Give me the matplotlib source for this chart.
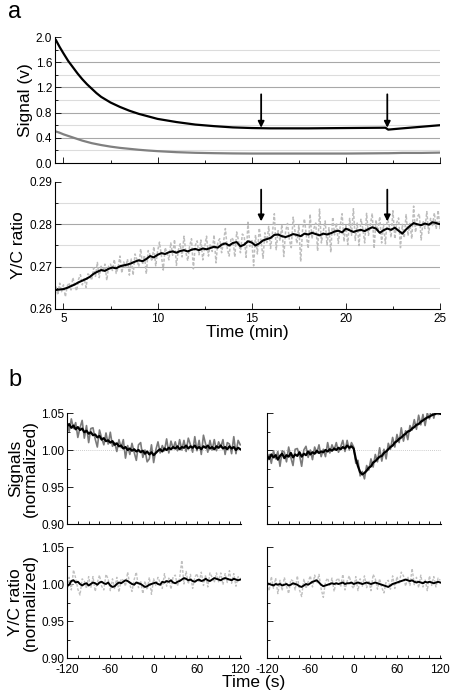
import numpy as np
import matplotlib
matplotlib.use("Agg")
import matplotlib.pyplot as plt
from matplotlib.ticker import MultipleLocator

plt.rcParams['font.family'] = ['Liberation Sans', 'DejaVu Sans']

#========================================================================
# panel a, top: raw signals (V)
t_sig = [4.6, 4.8, 5.0, 5.25, 5.5, 5.75, 6.0, 6.25, 6.5, 6.75, 7.0, 7.5, 8.0, 8.5, 9.0, 9.5,
         10.0, 11.0, 12.0, 13.0, 14.0, 15.0, 16.0, 18.0, 20.0, 22.1, 22.25, 23.0, 24.0, 25.0]
sig_black = [1.95, 1.84, 1.74, 1.62, 1.52, 1.42, 1.33, 1.25, 1.18, 1.11, 1.05, 0.96, 0.89, 0.83, 0.78, 0.74,
             0.70, 0.65, 0.61, 0.585, 0.565, 0.555, 0.55, 0.55, 0.555, 0.56, 0.53, 0.55, 0.575, 0.60]
sig_gray = [0.50, 0.48, 0.455, 0.43, 0.405, 0.38, 0.355, 0.335, 0.315, 0.30, 0.285, 0.26, 0.24, 0.225, 0.21, 0.198,
            0.188, 0.172, 0.162, 0.156, 0.152, 0.15, 0.15, 0.15, 0.15, 0.155, 0.155, 0.16, 0.16, 0.165]
arrow_t = [15.5, 22.2]

# panel a, bottom: Y/C ratio, black = smoothed (units 1e-4 above 0.26), every 0.2 min from 4.6
ratio_black_e4 = [45, 46, 47, 50, 54, 58, 63, 67, 71, 76, 83, 88, 92, 90, 95, 98, 96, 101, 103, 105,
                  108, 112, 115, 113, 118, 125, 122, 128, 132, 130, 134, 136, 133, 137, 139, 136, 140, 142, 139, 143,
                  141, 144, 147, 145, 152, 155, 150, 156, 158, 148, 152, 160, 157, 150, 155, 162, 165, 168, 175, 176,
                  172, 170, 173, 177, 175, 172, 178, 176, 180, 177, 174, 178, 176, 179, 183, 185, 181, 190, 186, 182,
                  185, 187, 184, 189, 193, 190, 180, 186, 190, 187, 192, 185, 178, 188, 196, 203, 200, 198, 202, 199,
                  205, 203, 200]
# raw ratio (gray), deviation from smoothed trace, two samples per smoothed point (1e-4)
ratio_gray_dev_e4 = [8, -12, 15, -5, 10, -18, 4, 12, -9, 20, -3, -15, 7, 18, -10, 5, -20, 12, 3, -8,
                     14, -6, 22, -14, 9, -4, 16, -22, 6, 11, -7, 19, -12, 2, 24, -16, 8, -5, 13, -25,
                     10, -28, 18, 5, -15, 27, -8, 14, -35, 20, 3, -12, 25, -20, 9, 30, -6, -40, 15, 2,
                     -18, 22, -9, 28, -30, 6, 17, -14, 33, -5, -22, 12, 26, -45, 8, 19, -11, 24, -27, 4,
                     31, -16, 10, -8, 28, -38, 14, 21, -19, 6, 35, -12, -25, 18, 9, -33, 24, 3, -15, 29,
                     20, -30, 45, -12, 8, -55, 25, -20, 36, 5, -42, 18, -8, 30, -25, 12, 50, -35, 9, -15,
                     27, -48, 14, 32, -10, -28, 40, 6, -20, 22, -60, 15, 35, -5, -33, 48, -14, 10, 26, -40,
                     62, -18, 5, 30, -25, 16, -45, 38, -8, 20, -30, 12, 44, -22, 7, -38, 28, -12, 55, -20,
                     18, -35, 25, 3, -28, 42, -15, 10, 33, -50, 20, -6, 38, -24, 14, -32, 26, 8, -18, 45,
                     -26, 12, 30, -40, 22, -10, 35, -15, 6, -30, 40, -22, 18, 25, -35, 10, -12, 28, -20, 15,
                     -8, 22, -14, 30, -10, 5]

# panel b: normalized traces, per-mille deviation from 1.00, every 3 s from -120 to 120
sigL_black = [32, 35, 30, 33, 28, 31, 27, 29, 24, 26, 22, 24, 20, 21, 17, 19, 14, 16, 12, 13,
              10, 12, 7, 9, 5, 6, 2, 4, 0, 2, -1, 1, -2, 0, -3, -1, -5, -2, -6, -3,
              -7, -4, -1, 1, -2, 2, 0, 3, 1, 4, 2, 5, 1, 4, 3, 6, 2, 5, 3, 6,
              2, 4, 1, 5, 3, 6, 2, 4, 1, 5, 3, 6, 2, 4, 1, 5, 2, 4, 0, 3, 1]
sigL_gray_dev = [6, -10, 12, -4, 9, -14, 3, 11, -8, 7, -12, 5, 10, -6, -13, 8, 2, -9, 11, -5,
                 14, -7, 3, -11, 9, -3, 12, -15, 6, -8, 10, -4, -12, 7, 13, -9, 5, -14, -6, 10,
                 -10, 4, 12, -5, 8, -3, 15, -7, 11, -2, 9, -6, 13, -4, 10, -8, 14, 2, -6, 12,
                 -3, 9, -7, 15, 5, -9, 11, -4, 13, -6, 8, -2, 12, -10, 9, 3, -7, 14, -5, 10, 6]
sigR_black = [-8, -12, -6, -10, -7, -13, -8, -5, -11, -7, -9, -4, -10, -6, -8, -3, -9, -5, -7, -2,
              -6, -3, -5, -1, -4, -2, -3, 0, -2, 1, -1, 2, 0, 3, 1, 4, 2, 6, 3, 5,
              2, -12, -22, -30, -33, -31, -28, -24, -22, -17, -15, -12, -9, -8, -4, -2, 1, 4, 6, 10,
              12, 15, 17, 20, 22, 25, 26, 29, 31, 34, 35, 38, 40, 42, 44, 45, 47, 48, 49, 50, 49]
sigR_gray_dev = [-8, 6, -12, 9, -5, 11, -14, 4, 8, -9, 13, -6, -11, 7, 10, -4, -13, 5, 12, -8,
                 6, -10, 9, -3, 11, -7, 4, -9, 12, -5, 8, -2, 10, -6, 3, 9, -4, 7, -3, 5,
                 2, -6, 8, -5, 4, -8, 7, -3, 10, -6, 9, -4, 12, -7, 5, -10, 8, -3, 11, -6,
                 9, -5, 13, -8, 4, -11, 7, -2, 10, -6, 12, -4, 8, -9, 6, -3, 11, -5, 7, -2, 0]
ratL_black = [-3, -1, 4, 5, 2, 3, 0, -2, 0, 1, -2, 0, 2, 1, -1, 2, 3, 1, 0, 2,
              -2, -4, -3, 0, 2, 1, 3, 5, 4, 2, 0, -1, 2, 1, 0, -2, -4, -3, -1, 0,
              1, 2, 0, -1, 3, 2, 4, 3, 5, 2, 1, 3, 4, 6, 8, 7, 5, 6, 4, 3,
              5, 6, 4, 5, 7, 5, 4, 6, 8, 7, 6, 5, 7, 8, 7, 6, 5, 7, 6, 5, 6]
ratL_gray_dev = [-8, 10, -12, 14, 6, -10, -15, 9, 4, -7, 12, -5, 8, -11, 3, 10, -6, -9, 13, 5,
                 -7, 11, -4, 9, -13, 6, 2, -8, 12, -3, -10, 7, 14, -6, 4, -11, 8, -5, 10, -14,
                 6, -4, 9, 3, -9, 12, -7, 5, -12, 8, 11, -6, 4, 26, -8, 10, -5, 7, -10, 6,
                 9, -4, 12, -7, 5, -9, 11, 3, -6, 8, -3, 10, -8, 6, -5, 12, -4, 7, -9, 5, 2]
ratR_black = [1, 0, -1, -2, 0, -1, 0, -2, -1, 0, -2, -1, 1, 0, -1, -3, -4, -2, 0, -1,
              1, 3, 4, 5, 2, -1, -3, -2, -1, 0, 1, 0, 1, 0, 1, 2, 0, 1, 1, 2,
              0, 1, 2, 1, 0, 1, 2, 1, 0, 1, 2, 1, 0, -1, -2, -3, -4, -2, 0, 1,
              2, 3, 4, 5, 6, 5, 4, 5, 3, 2, 3, 2, 1, 3, 2, 3, 2, 1, 2, 3, 2]
ratR_gray_dev = [6, -9, 11, -4, 8, -12, 5, -7, 10, -3, -11, 7, 3, -8, 12, -5, -13, 9, -6, 4,
                 10, -7, 8, -4, 11, -6, -15, 5, 9, -3, 7, -10, 4, 8, -5, 11, -8, 3, 10, -4,
                 -6, 9, -11, 6, -3, 10, -7, 4, -9, 12, 5, -8, 7, -4, -10, 6, 9, -5, 11, -7,
                 8, -3, 12, 6, -9, 5, -6, 16, -4, 7, -8, 10, -5, 3, -11, 8, -4, 9, -6, 5, 3]
#========================================================================

t_ratio = 4.6 + 0.2*np.arange(len(ratio_black_e4))
ratio_black = 0.26 + np.array(ratio_black_e4)*1e-4
t_ratio_raw = 4.6 + 0.1*np.arange(len(ratio_gray_dev_e4))
ratio_gray = np.repeat(ratio_black, 2)[:len(ratio_gray_dev_e4)] + np.array(ratio_gray_dev_e4)*1e-4

t_b = -120 + 3*np.arange(len(sigL_black))

def norm(v):
    return 1 + np.array(v)/1000.0

LIGHT = '#dcdcdc'
DARK = '#a8a8a8'
TICKFS = 8.5
LABFS = 12.5

fig = plt.figure(figsize=(4.5, 6.95), dpi=100)

def style(ax):
    for s in ('top', 'right'):
        ax.spines[s].set_visible(False)
    ax.spines['left'].set_linewidth(0.8)
    ax.spines['bottom'].set_linewidth(0.8)
    ax.tick_params(which='both', direction='in', labelsize=TICKFS, width=0.6, pad=2)
    ax.tick_params(which='major', length=4)
    ax.tick_params(which='minor', length=2)

# ---- panel a top
ax1 = fig.add_axes([55/450, 1-163/695, 385/450, 126/695])
style(ax1)
for yv in np.arange(0.2, 1.9, 0.2):
    c = DARK if round(yv/0.2) % 2 == 0 else LIGHT
    ax1.axhline(yv, color=c, lw=0.8, zorder=0)
ax1.plot(t_sig, sig_gray, color='#808080', lw=1.6)
ax1.plot(t_sig, sig_black, color='k', lw=1.6)
for ta in arrow_t:
    ax1.annotate('', xy=(ta, 0.56), xytext=(ta, 1.09),
                 arrowprops=dict(arrowstyle='-|>', color='k', lw=1.3, mutation_scale=9, shrinkA=0, shrinkB=0))
ax1.set_xlim(4.55, 25)
ax1.set_ylim(0, 2.0)
ax1.yaxis.set_major_locator(MultipleLocator(0.4))
ax1.yaxis.set_minor_locator(MultipleLocator(0.2))
ax1.xaxis.set_major_locator(MultipleLocator(5))
ax1.xaxis.set_minor_locator(MultipleLocator(2.5))
ax1.set_xticklabels([])
ax1.set_yticks([0, 0.4, 0.8, 1.2, 1.6, 2.0], ['0.0', '0.4', '0.8', '1.2', '1.6', '2.0'])
ax1.set_ylabel('Signal (v)', fontsize=LABFS, labelpad=2)

# ---- panel a bottom
ax2 = fig.add_axes([55/450, 1-309/695, 385/450, 127/695])
style(ax2)
for yv in [0.265, 0.27, 0.275, 0.28, 0.285]:
    c = DARK if abs(yv*100 - round(yv*100)) < 1e-6 else LIGHT
    ax2.axhline(yv, color=c, lw=0.8, zorder=0)
ax2.plot(t_ratio_raw, ratio_gray, color='#bdbdbd', lw=1.1, ls=(0, (2, 1.2)))
ax2.plot(t_ratio, ratio_black, color='k', lw=1.5)
for ta in arrow_t:
    ax2.annotate('', xy=(ta, 0.2807), xytext=(ta, 0.2882),
                 arrowprops=dict(arrowstyle='-|>', color='k', lw=1.3, mutation_scale=9, shrinkA=0, shrinkB=0))
ax2.set_xlim(4.55, 25)
ax2.set_ylim(0.26, 0.29)
ax2.yaxis.set_major_locator(MultipleLocator(0.01))
ax2.yaxis.set_minor_locator(MultipleLocator(0.005))
ax2.set_yticks([0.26, 0.27, 0.28, 0.29], ['0.26', '0.27', '0.28', '0.29'])
ax2.xaxis.set_major_locator(MultipleLocator(5))
ax2.xaxis.set_minor_locator(MultipleLocator(2.5))
ax2.tick_params(axis='x', pad=3)
ax2.set_xlabel('Time (min)', fontsize=LABFS, labelpad=0)
ax2.set_ylabel('Y/C ratio', fontsize=LABFS, labelpad=2)

# ---- panel b
panels = [
    ([67/450, 1-524/695, 174/450, 111/695], sigL_black, sigL_gray_dev, '#7a7a7a', True, True, False),
    ([267/450, 1-524/695, 174/450, 111/695], sigR_black, sigR_gray_dev, '#7a7a7a', True, False, False),
    ([67/450, 1-658/695, 174/450, 111/695], ratL_black, ratL_gray_dev, '#c0c0c0', False, True, True),
    ([267/450, 1-658/695, 174/450, 111/695], ratR_black, ratR_gray_dev, '#c0c0c0', False, False, True),
]
axb = []
for pos, blk, dev, gcol, is_sig, first, bottom in panels:
    ax = fig.add_axes(pos)
    style(ax)
    blk_v = norm(blk)
    gry_v = blk_v + np.array(dev)/1000.0
    if is_sig:
        ax.axhline(1.0, color='#bbbbbb', lw=0.6, ls=(0, (1, 1.5)), zorder=0)
        ax.plot(t_b, gry_v, color=gcol, lw=1.2)
        ax.plot(t_b, blk_v, color='k', lw=1.6)
    else:
        ax.plot(t_b, gry_v, color=gcol, lw=1.0, ls=(0, (2, 1.2)))
        ax.plot(t_b, blk_v, color='k', lw=1.4)
    ax.set_xlim(-120, 121)
    ax.set_ylim(0.90, 1.05)
    ax.xaxis.set_major_locator(MultipleLocator(60))
    ax.xaxis.set_minor_locator(MultipleLocator(15))
    ax.yaxis.set_major_locator(MultipleLocator(0.05))
    ax.yaxis.set_minor_locator(MultipleLocator(0.025))
    ax.tick_params(axis='x', which='major', length=2, pad=4)
    if first:
        ax.set_yticks([0.90, 0.95, 1.00, 1.05], ['0.90', '0.95', '1.00', '1.05'])
    else:
        ax.set_yticklabels([])
    if not bottom:
        ax.set_xticklabels([])
    else:
        ax.set_xticks([-120, -60, 0, 60, 120], ['-120', '-60', '0', '60', '120'])
    axb.append(ax)

axb[0].set_ylabel('Signals\n(normalized)', fontsize=LABFS, labelpad=2, linespacing=1.0)
axb[2].set_ylabel('Y/C ratio\n(normalized)', fontsize=LABFS, labelpad=2, linespacing=1.0)
fig.text(254/450, 1-683/695, 'Time (s)', fontsize=LABFS, ha='center', va='center')

fig.text(8/450, 1-12/695, 'a', fontsize=17, ha='left', va='center')
fig.text(8/450, 1-380/695, 'b', fontsize=17, ha='left', va='center')

fig.savefig('out.png', dpi=100)
